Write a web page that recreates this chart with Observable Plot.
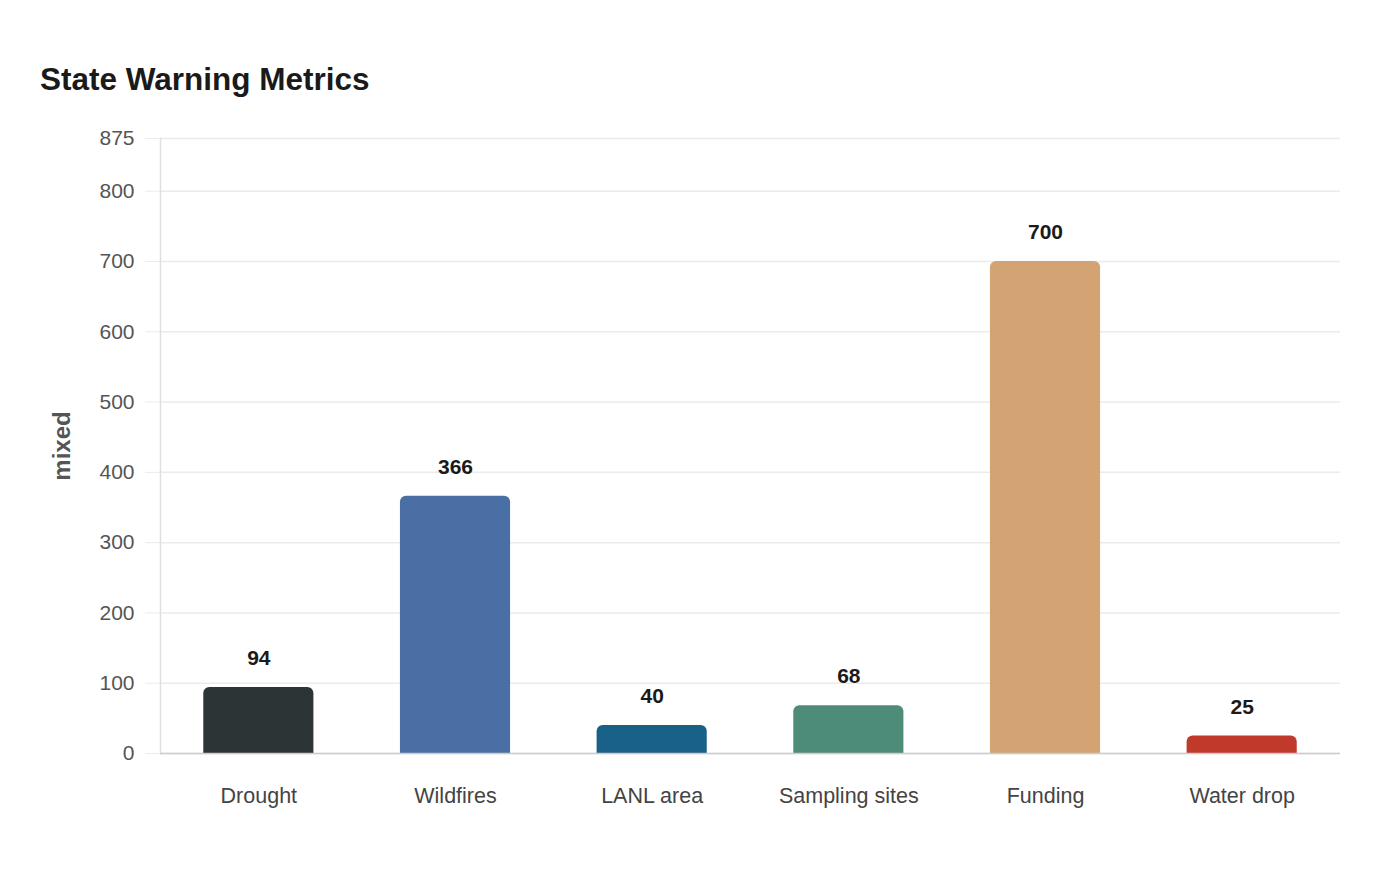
<!DOCTYPE html>
<html>
<head>
<meta charset="utf-8">
<script src="https://cdn.jsdelivr.net/npm/d3@7"></script>
<script src="https://cdn.jsdelivr.net/npm/@observablehq/plot@0.6"></script>
<style>
  html, body { margin: 0; padding: 0; background: #fff; }
  body { width: 1400px; height: 880px; position: relative; font-family: "Liberation Sans", Arial, sans-serif; }
  h1 { position: absolute; left: 40px; top: 62px; margin: 0; font-size: 31.5px; font-weight: bold; color: #1a1a1a; line-height: 1.1; }
  #chart { position: absolute; left: 0; top: 110px; }
</style>
</head>
<body>
<h1>State Warning Metrics</h1>
<div id="chart"></div>
<script>
const categories = ["Drought", "Wildfires", "LANL area", "Sampling sites", "Funding", "Water drop"];
const values = [94, 366, 40, 68, 700, 25];
const colors = ["#2d3436", "#4a6fa5", "#1a6187", "#4e8c7a", "#d4a373", "#c0392b"];
const yTicks = [0, 100, 200, 300, 400, 500, 600, 700, 800, 875];

const data = categories.map((c, i) => ({category: c, value: values[i], color: colors[i]}));

const chart = Plot.plot({
  width: 1400,
  height: 770,
  marginTop: 28,
  marginBottom: 127,
  marginLeft: 160,
  marginRight: 60,
  style: {fontFamily: "'Liberation Sans', Arial, sans-serif", fontSize: "21px", color: "#555", background: "#fff"},
  x: {domain: categories, paddingInner: 0.44, paddingOuter: 0.22, round: false, label: null},
  y: {domain: [0, 875], label: null},
  marks: [
    // horizontal grid lines across the frame
    Plot.ruleY(yTicks, {stroke: "#ebebeb", strokeWidth: 1.5}),
    // y axis: ticks continue the grid lines past the left edge
    Plot.axisY({ticks: yTicks, tickSize: 15, tickPadding: 11, stroke: "#ebebeb", strokeOpacity: 1, fill: "#555", fontSize: 21, label: null}),
    Plot.text(["mixed"], {frameAnchor: "left", textAnchor: "middle", dx: -98, rotate: -90, fontWeight: "bold", fontSize: 24, fill: "#555"}),
    Plot.frame({anchor: "left", stroke: "#e0e0e0", strokeWidth: 1.5}),
    // bars rounded on all corners; the bottom rounding is pushed below the baseline and clipped
    Plot.barY(data, {x: "category", y: "value", fill: "color", rx: 6, insetBottom: -8, clip: true}),
    Plot.ruleY([0], {stroke: "#cccccc", strokeWidth: 1.5}),
    Plot.axisX({tickSize: 0, tickPadding: 34, fill: "#444", fontSize: 21.5, label: null}),
    Plot.text(data, {x: "category", y: "value", text: d => String(d.value), dy: -29, fontWeight: "bold", fontSize: 21, fill: "#1a1a1a"})
  ]
});
document.getElementById("chart").appendChild(chart);
</script>
</body>
</html>
